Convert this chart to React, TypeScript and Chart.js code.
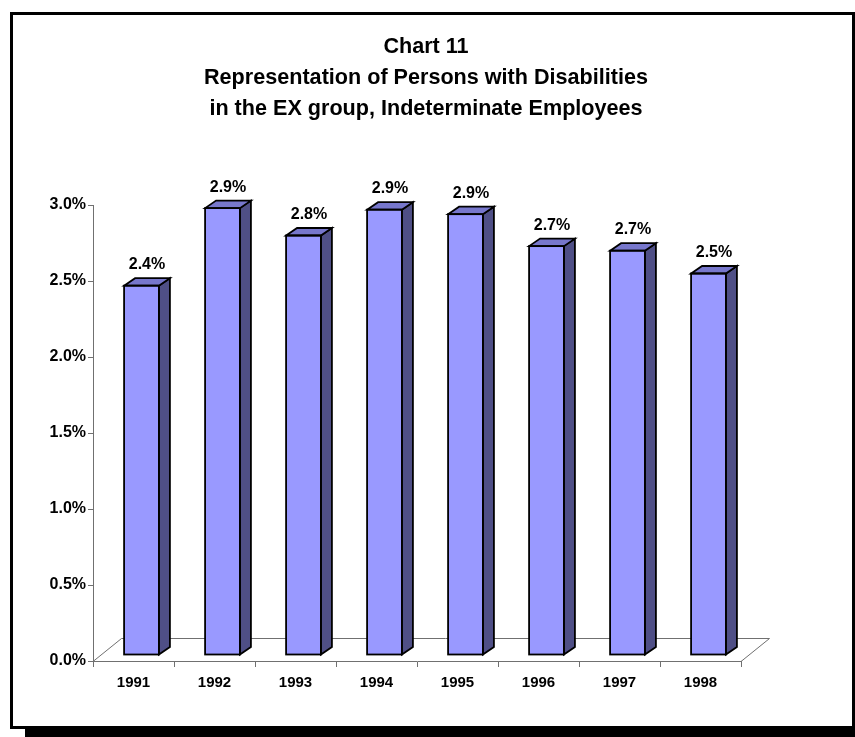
import { useEffect, useRef } from 'react';
import { Chart, registerables } from 'chart.js';

Chart.register(...registerables);

const FONT = '"Liberation Sans", Arial, Helvetica, sans-serif';

const TITLE_LINES = [
  'Chart 11',
  'Representation of Persons with Disabilities',
  'in the EX group, Indeterminate Employees',
];

const CATEGORIES = ['1991', '1992', '1993', '1994', '1995', '1996', '1997', '1998'];
// representation, in percent
const VALUES = [2.43, 2.94, 2.76, 2.93, 2.9, 2.69, 2.66, 2.51];

const Y_MIN = 0;
const Y_MAX = 3;
const Y_STEP = 0.5;

// 3D look
const SHIFT_X = 8;
const SHIFT_Y = -6;
const DEPTH_X = 11;
const DEPTH_Y = 7.5;
const FLOOR_X = 28.5;
const FLOOR_Y = 23;

const FRONT = '#9999FF';
const TOP = '#7777CC';
const SIDE = '#4F4F86';
const AXIS = '#707070';

const excel3d = {
  id: 'excel3d',
  beforeDraw(chart: any) {
    const { ctx, width, height } = chart;
    ctx.save();
    ctx.fillStyle = '#ffffff';
    ctx.fillRect(0, 0, width, height);
    // frame and shadow
    ctx.fillStyle = '#000000';
    ctx.fillRect(10, 12, 845, 3);
    ctx.fillRect(10, 12, 3, 717);
    ctx.fillRect(10, 726, 845, 3);
    ctx.fillRect(852, 12, 3, 717);
    ctx.fillRect(25, 729, 830, 8);
    // title
    ctx.font = `bold 21.6px ${FONT}`;
    ctx.textAlign = 'center';
    ctx.textBaseline = 'alphabetic';
    const baselines = [53, 83.5, 115];
    TITLE_LINES.forEach((t, i) => ctx.fillText(t, 426, baselines[i]));
    ctx.restore();
  },
  beforeDatasetsDraw(chart: any) {
    const { ctx, chartArea } = chart;
    const { left, right, bottom } = chartArea;
    ctx.save();
    ctx.strokeStyle = AXIS;
    ctx.lineWidth = 1;
    ctx.beginPath();
    ctx.moveTo(left, bottom + 0.5);
    ctx.lineTo(left + FLOOR_X, bottom - FLOOR_Y + 0.5);
    ctx.lineTo(right + FLOOR_X, bottom - FLOOR_Y + 0.5);
    ctx.lineTo(right, bottom + 0.5);
    ctx.stroke();
    ctx.restore();
    ctx.save();
    ctx.translate(SHIFT_X, SHIFT_Y);
  },
  afterDatasetsDraw(chart: any) {
    const { ctx } = chart;
    const meta = chart.getDatasetMeta(0);
    ctx.lineWidth = 1.8;
    ctx.strokeStyle = '#000000';
    ctx.lineJoin = 'miter';
    meta.data.forEach((el: any) => {
      const { x, y, base, width } = el.getProps(['x', 'y', 'base', 'width'], true);
      const l = x - width / 2;
      const r = x + width / 2;
      // side
      ctx.beginPath();
      ctx.moveTo(r, y);
      ctx.lineTo(r + DEPTH_X, y - DEPTH_Y);
      ctx.lineTo(r + DEPTH_X, base - DEPTH_Y);
      ctx.lineTo(r, base);
      ctx.closePath();
      ctx.fillStyle = SIDE;
      ctx.fill();
      ctx.stroke();
      // top
      ctx.beginPath();
      ctx.moveTo(l, y);
      ctx.lineTo(l + DEPTH_X, y - DEPTH_Y);
      ctx.lineTo(r + DEPTH_X, y - DEPTH_Y);
      ctx.lineTo(r, y);
      ctx.closePath();
      ctx.fillStyle = TOP;
      ctx.fill();
      ctx.stroke();
      // front outline
      ctx.strokeRect(l, y, width, base - y);
    });
    ctx.restore();
    // value labels
    ctx.save();
    ctx.font = `bold 16px ${FONT}`;
    ctx.fillStyle = '#000000';
    ctx.textAlign = 'center';
    ctx.textBaseline = 'alphabetic';
    meta.data.forEach((el: any, i: number) => {
      const { x, y } = el.getProps(['x', 'y'], true);
      ctx.fillText(
        VALUES[i].toFixed(1) + '%',
        x + SHIFT_X + DEPTH_X / 2,
        y + SHIFT_Y - DEPTH_Y - 9
      );
    });
    ctx.restore();
  },
};

export default function App() {
  const ref = useRef<HTMLCanvasElement>(null);
  useEffect(() => {
    if (!ref.current) return;
    const chart = new Chart(ref.current, {
      type: 'bar',
      data: {
        labels: CATEGORIES,
        datasets: [
          {
            data: VALUES,
            backgroundColor: FRONT,
            borderColor: '#000000',
            borderWidth: 0,
            borderSkipped: false,
            categoryPercentage: 1,
            barPercentage: 0.43,
            clip: false as any,
          },
        ],
      },
      options: {
        responsive: false,
        animation: false,
        devicePixelRatio: 1,
        layout: { padding: { left: 10, top: 205, right: 114, bottom: 36 } },
        plugins: {
          legend: { display: false },
          title: { display: false },
          tooltip: { enabled: false },
        },
        scales: {
          x: {
            type: 'category',
            offset: true,
            grid: {
              offset: true,
              drawOnChartArea: false,
              drawTicks: true,
              tickLength: 6,
              color: AXIS,
            },
            border: { display: true, color: AXIS, width: 1 },
            ticks: {
              color: '#000000',
              font: { family: FONT, size: 15, weight: 'bold' },
              padding: 7,
              maxRotation: 0,
              autoSkip: false,
            },
            afterFit: (s: any) => {
              s.height = 40;
            },
          },
          y: {
            type: 'linear',
            min: Y_MIN,
            max: Y_MAX,
            grid: {
              drawOnChartArea: false,
              drawTicks: true,
              tickLength: 5,
              color: AXIS,
            },
            border: { display: true, color: AXIS, width: 1 },
            ticks: {
              stepSize: Y_STEP,
              color: '#000000',
              font: { family: FONT, size: 16, weight: 'bold' },
              padding: 2,
              callback: (v: any) => Number(v).toFixed(1) + '%',
            },
            afterFit: (s: any) => {
              s.width = 83;
            },
          },
        },
      },
      plugins: [excel3d],
    });
    return () => chart.destroy();
  }, []);
  return (
    <div style={{ position: 'absolute', left: 0, top: 0, width: 855, height: 737 }}>
      <canvas ref={ref} width={855} height={737} style={{ display: 'block' }} />
    </div>
  );
}
